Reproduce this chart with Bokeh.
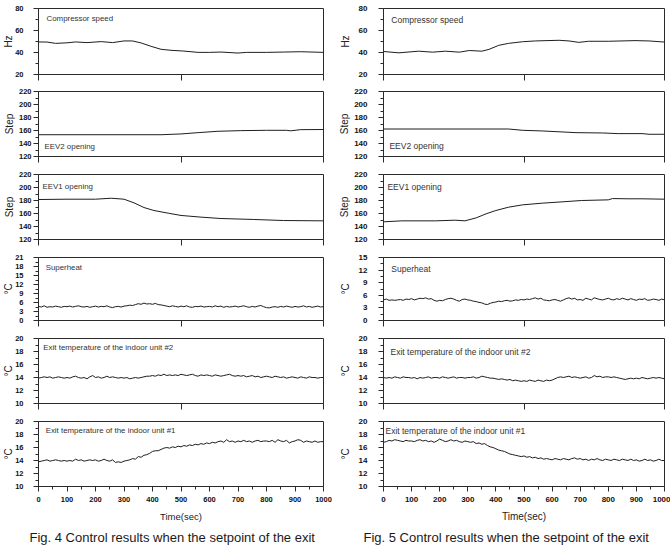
from bokeh.plotting import figure
from bokeh.layouts import column, row
from bokeh.models import Range1d, FixedTicker, Label, Title
from bokeh.embed import file_html
from bokeh.resources import INLINE

FONT = "Liberation Sans"
INK = "#1e1e1e"
AXIS = "#2a2a2a"

# logging grid of the noisy temperature signals (s)
t_log = list(range(0, 1001, 10))

# ---------------- Fig. 4 ----------------
f4_comp_t = [0, 30, 60, 100, 130, 170, 220, 260, 300, 330, 360, 395, 430, 465, 510, 560, 600, 640, 700, 730, 800, 860, 920, 1000]
f4_comp_hz = [49.6, 49.5, 48.3, 48.8, 49.6, 49.0, 49.9, 49.0, 50.5, 50.5, 48.7, 45.6, 42.9, 42.0, 41.3, 40.1, 40.1, 40.4, 39.5, 40.1, 40.1, 40.4, 40.7, 40.1]

f4_eev2_t = [0, 430, 500, 560, 630, 710, 800, 870, 885, 920, 1000]
f4_eev2 = [153.5, 153.5, 154.7, 156.7, 158.8, 159.8, 160.3, 160.3, 159.5, 161.3, 161.5]

f4_eev1_t = [0, 100, 200, 255, 300, 335, 370, 405, 455, 500, 570, 640, 755, 860, 1000]
f4_eev1 = [181.5, 182, 182, 183.5, 182, 176.4, 169.2, 164.6, 160.5, 157, 154.4, 152.3, 150.8, 149.2, 148.7]

f4_superheat = [
    4.7, 4.5, 4.9, 4.4, 4.6, 4.5, 4.8, 4.6, 4.4, 4.7,
    4.6, 4.8, 4.5, 4.7, 4.9, 4.6, 4.5, 4.7, 4.4, 4.6,
    4.8, 4.5, 4.7, 4.6, 4.9, 4.5, 4.3, 4.6, 4.7, 4.5,
    4.8, 4.9, 5.1, 5.0, 5.3, 5.6, 5.4, 5.8, 5.5, 5.6,
    5.4, 5.7, 5.3, 5.2, 5.0, 4.8, 4.6, 4.9, 4.7, 4.5,
    4.8, 4.6, 4.9, 4.5, 4.4, 4.7, 4.6, 4.8, 4.5, 4.6,
    4.7, 4.5, 4.9, 4.6, 4.8, 4.4, 4.7, 4.5, 4.6, 4.8,
    4.5, 4.7, 4.9, 4.6, 4.4, 4.7, 4.5, 4.8, 5.0, 4.6,
    4.3, 4.2, 4.5, 4.6, 4.4, 4.7, 4.5, 4.8, 4.6, 4.4,
    4.7, 4.5, 4.6, 4.9, 4.5, 4.7, 4.4, 4.6, 4.8, 4.5, 4.6]

f4_exit2 = [
    13.9, 14.0, 14.1, 14.0, 14.1, 13.9, 14.0, 14.1, 14.0, 13.9,
    14.0, 13.9, 14.1, 14.2, 14.0, 13.9, 14.0, 13.8, 14.1, 14.3,
    14.0, 14.1, 13.9, 14.0, 14.2, 14.0, 14.1, 14.0, 13.9, 14.0,
    13.9, 14.0, 13.8, 13.9, 14.0, 13.9, 14.0, 14.1, 14.2, 14.2,
    14.3, 14.2, 14.4, 14.3, 14.5, 14.3, 14.4, 14.3, 14.4, 14.3,
    14.5, 14.4, 14.3, 14.4, 14.5, 14.3, 14.2, 14.4, 14.3, 14.4,
    14.3, 14.2, 14.4, 14.3, 14.2, 14.3, 14.4, 14.5, 14.3, 14.2,
    14.3, 14.2, 14.3, 14.1, 14.2, 14.3, 14.1, 14.2, 14.0, 14.1,
    14.2, 14.1, 14.0, 14.2, 14.1, 14.0, 14.1, 13.9, 14.0, 14.1,
    14.0, 13.9, 14.1, 14.0, 13.9, 14.1, 14.0, 14.0, 13.9, 14.0, 14.0]

f4_exit1 = [
    13.8, 13.9, 14.0, 14.1, 13.9, 14.0, 14.1, 14.0, 13.9, 14.0,
    13.9, 14.0, 13.9, 14.2, 14.0, 14.1, 13.9, 14.0, 14.1, 14.0,
    14.1, 13.9, 14.0, 14.2, 14.0, 13.9, 14.1, 13.7, 13.8, 13.7,
    13.9, 14.0, 14.1, 14.3, 14.2, 14.6, 14.5, 14.8, 14.9, 15.1,
    15.4, 15.5, 15.5, 15.7, 15.9, 16.0, 15.9, 16.1, 16.0, 16.2,
    16.1, 16.3, 16.2, 16.4, 16.3, 16.5, 16.4, 16.6, 16.5, 16.7,
    16.6, 16.8, 16.7, 16.9, 17.0, 16.8, 17.2, 16.9, 17.0, 16.8,
    17.0, 16.9, 17.1, 16.9, 17.0, 16.8, 17.0, 17.1, 16.9, 17.0,
    17.0, 16.9, 17.1, 16.8, 17.2, 17.0, 16.9, 17.1, 16.7, 16.9,
    17.0, 17.2, 17.1, 16.8, 17.0, 16.9, 16.8, 17.0, 16.8, 16.9, 16.9]

# ---------------- Fig. 5 ----------------
f5_comp_t = [0, 55, 125, 175, 220, 270, 305, 350, 375, 410, 445, 495, 540, 625, 660, 695, 730, 800, 895, 945, 1000]
f5_comp_hz = [40.9, 39.7, 41.2, 40.3, 41.2, 40.3, 41.8, 41.2, 42.8, 46.5, 48.3, 49.8, 50.5, 51.1, 50.5, 49.2, 50.2, 50.2, 50.8, 50.5, 49.5]

f5_eev2_t = [0, 445, 495, 565, 635, 685, 780, 835, 920, 945, 1000]
f5_eev2 = [162.3, 162.3, 160.3, 159.3, 157.8, 156.7, 156.2, 155.2, 155.2, 154.2, 154.2]

f5_eev1_t = [0, 65, 185, 255, 290, 330, 365, 400, 445, 495, 565, 635, 705, 800, 815, 870, 920, 1000]
f5_eev1 = [147.2, 148.7, 148.7, 149.7, 148.7, 153.3, 159.5, 164.6, 169.7, 173.3, 175.9, 177.9, 180, 181, 183, 182.6, 182.6, 182]

f5_superheat = [
    4.9, 5.1, 4.8, 4.9, 4.8, 4.9, 5.0, 4.8, 5.1, 5.0,
    5.2, 4.9, 5.1, 5.3, 5.2, 5.4, 5.1, 5.2, 4.8, 4.6,
    4.8, 4.7, 5.0, 5.2, 5.3, 5.1, 4.8, 4.6, 5.0, 5.1,
    4.9, 4.8, 4.6, 4.5, 4.3, 4.2, 3.9, 3.8, 4.1, 4.3,
    4.4, 4.6, 4.5, 4.7, 4.8, 4.6, 4.7, 4.9, 4.8, 5.0,
    4.9, 5.1, 5.0, 5.2, 5.4, 5.1, 5.3, 4.9, 4.8, 4.7,
    4.9, 5.0, 4.8, 4.6, 4.9, 5.2, 5.4, 5.1, 5.3, 4.9,
    5.0, 4.8, 5.3, 5.1, 4.9, 5.4, 5.2, 5.0, 4.9, 5.1,
    5.3, 5.0, 4.9, 5.2, 5.0, 5.3, 5.1, 4.9, 5.2, 5.0,
    4.8, 5.1, 5.0, 5.2, 4.8, 4.9, 5.1, 5.0, 4.8, 5.1, 4.9]

f5_exit2 = [
    14.0, 13.9, 14.0, 13.9, 14.1, 14.0, 13.9, 14.1, 14.0, 14.0,
    13.9, 14.0, 13.8, 14.0, 13.9, 14.0, 14.1, 13.9, 14.0, 14.0,
    13.9, 14.1, 14.0, 13.9, 14.0, 14.1, 13.9, 14.0, 14.0, 13.9,
    14.0, 14.0, 14.1, 13.9, 14.0, 14.2, 14.1, 14.0, 13.9, 13.9,
    13.8, 13.7, 13.8, 13.7, 13.6, 13.7, 13.5, 13.6, 13.5, 13.4,
    13.5, 13.4, 13.6, 13.5, 13.4, 13.6, 13.5, 13.4, 13.6, 13.5,
    13.6, 13.8, 14.0, 14.1, 14.0, 14.1, 14.2, 14.0, 14.1, 14.0,
    13.9, 14.0, 14.1, 13.9, 14.0, 14.3, 14.1, 14.2, 14.0, 14.1,
    14.1, 14.0, 14.1, 14.0, 13.9, 13.8, 13.7, 13.8, 13.9, 13.8,
    13.9, 13.8, 14.0, 13.9, 13.8, 13.9, 14.0, 13.9, 14.0, 13.9, 13.8]

f5_exit1 = [
    16.8, 16.9, 17.1, 17.0, 17.2, 17.1, 17.0, 16.9, 17.1, 17.0,
    17.0, 16.9, 17.1, 17.2, 17.0, 17.1, 16.9, 17.0, 16.8, 17.0,
    17.3, 17.1, 16.9, 17.0, 17.2, 17.0, 17.1, 16.9, 16.8, 17.0,
    16.9, 16.8, 16.9, 16.6, 16.7, 16.5, 16.6, 16.3, 16.1, 16.0,
    15.8, 15.6, 15.5, 15.4, 15.2, 15.0, 14.9, 14.8, 14.7, 14.6,
    14.7, 14.5, 14.6, 14.4, 14.5, 14.3, 14.4, 14.2, 14.3, 14.2,
    14.1, 14.3, 14.2, 14.1, 14.3, 14.2, 14.1, 14.3, 14.4, 14.2,
    14.3, 14.1, 14.2, 14.0, 14.2, 14.1, 14.3, 14.1, 14.0, 14.2,
    14.1, 14.0, 14.2, 14.1, 14.0, 14.2, 14.1, 14.0, 14.2, 14.0,
    14.1, 13.9, 14.0, 14.2, 14.0, 14.1, 13.9, 14.0, 14.2, 14.0, 14.0]

# axis scales shared by both figures
hz_ticks, hz_minor = [20, 40, 60, 80], [30, 50, 70]
step_ticks, step_minor = [120, 140, 160, 180, 200, 220], [130, 150, 170, 190, 210]
temp_ticks, temp_minor = [10, 12, 14, 16, 18, 20], [11, 13, 15, 17, 19]
sh4_ticks = [0, 3, 6, 9, 12, 15, 18, 21]
sh4_minor = [1.5, 4.5, 7.5, 10.5, 13.5, 16.5, 19.5]
sh5_ticks = [0, 3, 6, 9, 12, 15]
sh5_minor = [1.5, 4.5, 7.5, 10.5, 13.5]
time_ticks = list(range(0, 1001, 100))
time_minor = list(range(50, 1000, 100))
marker_ticks = [0, 500, 1000]   # unlabelled time marks on the upper panels

# (top border, frame height, bottom border) for the six stacked rows
ROWS = [(8, 66, 9), (8, 65, 9), (9, 65, 9), (9, 63, 9), (9, 65, 9), (9, 65, 62)]
COLS = {
    "L": dict(left=37, right=12, tick_px="7.5px", note_px="7.9px", xlab_px="9.5px", cap_off=-9),
    "R": dict(left=48, right=6, tick_px="8px", note_px="8.5px", xlab_px="10px", cap_off=-20),
}


def panel(col, r, t, v, yr, ymaj, ymin, ylab, note, nx, ny, lab_std, ax_std, caption=None):
    c = COLS[col]
    bt, fh, bb = ROWS[r]
    p = figure(width=335, height=bt + fh + bb, x_range=Range1d(0, 1000), y_range=Range1d(*yr),
               output_backend="svg", toolbar_location=None,
               min_border_left=c["left"], min_border_right=c["right"],
               min_border_top=bt, min_border_bottom=bb)
    p.grid.visible = False
    p.outline_line_color = AXIS
    p.outline_line_width = 1
    p.background_fill_color = "white"
    p.border_fill_color = "white"

    p.line(t, v, line_color=INK, line_width=1)

    ya = p.yaxis[0]
    ya.ticker = FixedTicker(ticks=ymaj, minor_ticks=ymin)
    ya.axis_line_color = AXIS
    ya.major_tick_line_color = AXIS
    ya.minor_tick_line_color = AXIS
    ya.major_tick_out, ya.major_tick_in = 5, 0
    ya.minor_tick_out, ya.minor_tick_in = 3, 0
    ya.major_label_text_font = FONT
    ya.major_label_text_font_size = c["tick_px"]
    ya.major_label_text_font_style = "bold"
    ya.major_label_text_color = "#111111"
    ya.major_label_standoff = lab_std
    ya.axis_label = ylab
    ya.axis_label_text_font = FONT
    ya.axis_label_text_font_size = "10px"
    ya.axis_label_text_font_style = "normal"
    ya.axis_label_text_color = "#222222"
    ya.axis_label_standoff = ax_std

    xa = p.xaxis[0]
    xa.axis_line_color = AXIS
    xa.major_tick_line_color = AXIS
    xa.minor_tick_line_color = AXIS
    xa.major_tick_in = 0
    xa.minor_tick_in = 0
    if caption is None:
        # only unlabelled marks: carried by the minor ticks
        xa.ticker = FixedTicker(ticks=[], minor_ticks=marker_ticks)
        xa.minor_tick_out = 6
        xa.major_label_standoff = 0
    else:
        xa.ticker = FixedTicker(ticks=time_ticks, minor_ticks=time_minor)
        xa.major_tick_out = 5
        xa.minor_tick_out = 3
        xa.major_label_text_font = FONT
        xa.major_label_text_font_size = c["tick_px"]
        xa.major_label_text_font_style = "bold"
        xa.major_label_text_color = "#111111"
        xa.major_label_standoff = 5
        xa.axis_label = "Time(sec)"
        xa.axis_label_text_font = FONT
        xa.axis_label_text_font_size = c["xlab_px"]
        xa.axis_label_text_font_style = "normal"
        xa.axis_label_text_color = "#222222"
        xa.axis_label_standoff = 6
        p.add_layout(Title(text=caption, align="left", offset=c["cap_off"], standoff=6,
                           text_font=FONT, text_font_size="13px", text_font_style="normal",
                           text_color="#1a1a1a"), "below")

    p.add_layout(Label(x=nx, y=ny, text=note, text_font=FONT, text_font_size=c["note_px"],
                       text_baseline="middle", text_color="#333333"))
    return p


left = column(
    panel("L", 0, f4_comp_t, f4_comp_hz, (20, 80), hz_ticks, hz_minor, "Hz", "Compressor speed", 28, 71, 10, -2),
    panel("L", 1, f4_eev2_t, f4_eev2, (120, 220), step_ticks, step_minor, "Step", "EEV2 opening", 21, 136, 2, 1),
    panel("L", 2, f4_eev1_t, f4_eev1, (120, 220), step_ticks, step_minor, "Step", "EEV1 opening", 14, 201.5, 2, 1),
    panel("L", 3, t_log, f4_superheat, (0, 21), sh4_ticks, sh4_minor, "°C", "Superheat", 25, 17.6, 10, -2),
    panel("L", 4, t_log, f4_exit2, (10, 20), temp_ticks, temp_minor, "°C", "Exit temperature of the indoor unit #2", 17, 18.6, 10, -2),
    panel("L", 5, t_log, f4_exit1, (10, 20), temp_ticks, temp_minor, "°C", "Exit temperature of the indoor unit #1", 25, 18.6, 10, -2,
          caption="Fig. 4 Control results when the setpoint of the exit"),
    spacing=0)

right = column(
    panel("R", 0, f5_comp_t, f5_comp_hz, (20, 80), hz_ticks, hz_minor, "Hz", "Compressor speed", 28, 70, 11, 5),
    panel("R", 1, f5_eev2_t, f5_eev2, (120, 220), step_ticks, step_minor, "Step", "EEV2 opening", 21, 136, 11, 1),
    panel("R", 2, f5_eev1_t, f5_eev1, (120, 220), step_ticks, step_minor, "Step", "EEV1 opening", 14, 201.5, 11, 1),
    panel("R", 3, t_log, f5_superheat, (0, 15), sh5_ticks, sh5_minor, "°C", "Superheat", 28, 12.2, 11, 5),
    panel("R", 4, t_log, f5_exit2, (10, 20), temp_ticks, temp_minor, "°C", "Exit temperature of the indoor unit #2", 25, 18.0, 11, 5),
    panel("R", 5, t_log, f5_exit1, (10, 20), temp_ticks, temp_minor, "°C", "Exit temperature of the indoor unit #1", 7, 18.5, 11, 5,
          caption="Fig. 5 Control results when the setpoint of the exit"),
    spacing=0)

page = row(left, right, spacing=0)

with open("out.html", "w") as fh:
    fh.write(file_html(page, INLINE))
